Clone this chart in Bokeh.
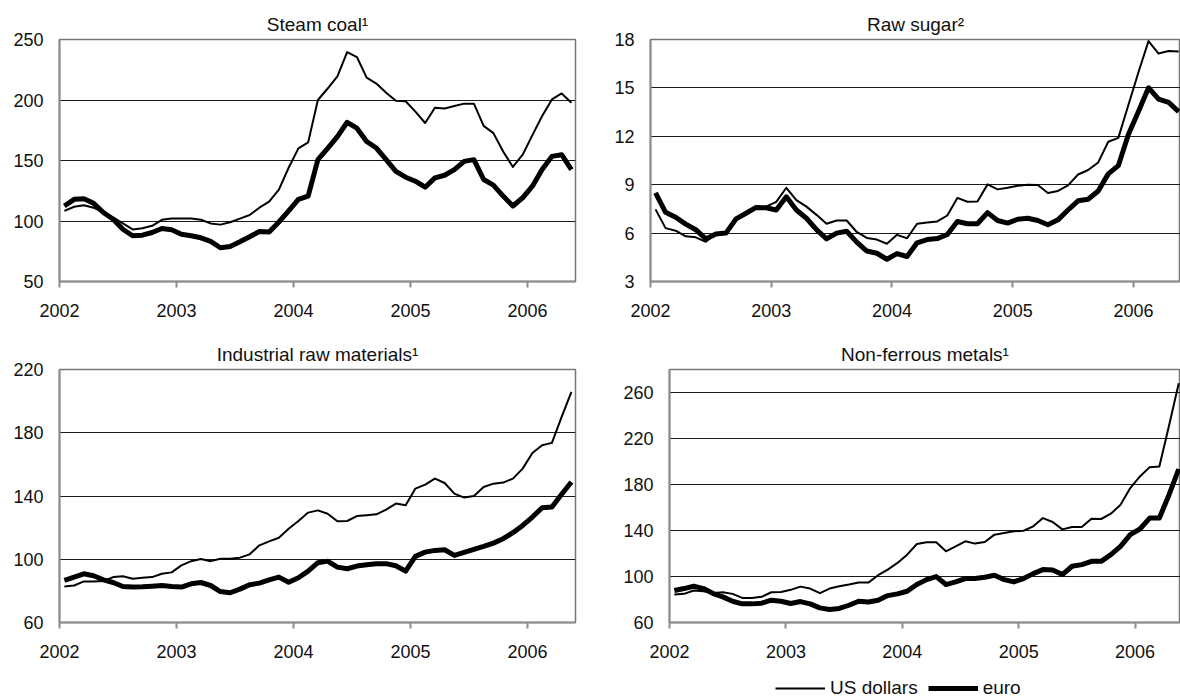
import pandas as pd
from bokeh.plotting import figure
from bokeh.layouts import column, row
from bokeh.models import FixedTicker, Legend, LegendItem, Range1d
from bokeh.embed import file_html
from bokeh.resources import INLINE

# ---------------- data (monthly, Jan 2002 - May 2006) ----------------
months = pd.date_range("2002-01-01", periods=53, freq="MS")
x = list(months.year + (months.month - 0.5) / 12.0)

year_ticks = [2002, 2003, 2004, 2005, 2006]
year_labels = ["2002", "2003", "2004", "2005", "2006"]

coal_usd = [108.3, 111.8, 113, 111, 107, 103, 98, 93, 94, 96, 101, 102, 102, 102, 101, 98, 97, 99,
            102, 105, 111, 116, 126, 144, 160,
            165, 200, 209.5, 219.6, 239.6, 235.5, 218.5, 213.6, 206, 199.4, 199, 190.4, 181, 193.6,
            193, 195, 197, 197, 178.6, 172.6, 157.5, 144.7, 154.8, 171, 186.8, 200.5, 205.4, 197.7]
coal_eur = [112.4, 117.9, 118.4, 114.6, 107, 101.4, 93.2, 87.8, 88.3, 90.5, 93.8, 92.7, 89, 87.8,
            86.1, 83.1, 77.9, 79, 82.8, 87, 91.3, 91, 99.2, 108.3, 117.9,
            120.6, 150.7, 160, 169.8, 181.6, 176.7, 165.7, 160.3, 150.7, 141, 136.2, 132.9, 127.9,
            135.6, 137.8, 142.5, 149.3, 150.7, 134.3, 129.6, 120.6, 112.4, 119.2, 128.8, 142.5,
            153.4, 154.8, 142.5]

sugar_usd = [7.47, 6.31, 6.15, 5.8, 5.74, 5.46, 5.97, 6.0, 6.82, 7.23, 7.59, 7.64, 7.94, 8.81, 8.04,
             7.64, 7.13, 6.58, 6.78, 6.78, 6.07, 5.7,
             5.6, 5.34, 5.89, 5.68, 6.58, 6.66, 6.72, 7.09, 8.18, 7.94, 7.96, 9.02, 8.71, 8.81, 8.94,
             9.0, 8.98, 8.49, 8.61, 8.96, 9.63, 9.91, 10.38, 11.66, 11.9, 13.94, 15.97, 17.9, 17.13,
             17.29, 17.25]
sugar_eur = [8.49, 7.29, 6.98, 6.56, 6.21, 5.64, 5.95, 6.0, 6.88, 7.23, 7.59, 7.57, 7.43, 8.25, 7.43,
             6.92, 6.21, 5.64, 6.0, 6.11, 5.44, 4.89,
             4.75, 4.38, 4.73, 4.55, 5.4, 5.6, 5.66, 5.91, 6.72, 6.58, 6.58, 7.27, 6.78, 6.62, 6.86,
             6.92, 6.78, 6.52, 6.82, 7.43, 8.0, 8.1, 8.61, 9.67, 10.18, 12.11, 13.53, 15.01, 14.3,
             14.1, 13.53]

ind_usd = [82.8, 83.4, 86, 86, 86.2, 88.7, 89.3, 87.7, 88.3, 88.7, 90.8, 91.7, 96.1, 98.8, 100.1,
           98.8, 100.3, 100.3, 101, 103.1, 108.8, 111.3,
           113.6, 119.3, 124.2, 129.5, 130.9, 128.8, 124, 124.2, 127.3, 127.8, 128.4, 131.4, 135.2,
           134.1, 144.7, 147.2, 151, 148.2, 141.5, 139, 140, 145.7, 147.8, 148.5, 151, 157.3, 167.2,
           172.1, 173.6, 190, 205.9]
ind_eur = [86.6, 88.7, 90.8, 89.6, 87, 85.3, 82.8, 82.4, 82.6, 83, 83.4, 82.8, 82.4, 84.5, 85.3,
           83.4, 79.6, 78.8, 81.1, 83.9, 84.9, 87,
           88.7, 85.5, 88.3, 92.5, 97.8, 98.8, 95, 94, 95.7, 96.5, 97.2, 97.2, 95.9, 92.5, 101.8,
           104.5, 105.6, 106, 102.4, 104.3, 106.2, 108.1, 110.2, 113, 116.8, 121.4, 126.7, 132.6,
           133, 141.1, 148.9]

nfm_usd = [84.3, 84.9, 87.8, 87.2, 85.7, 86.3, 84.9, 81.4, 81.4, 82.3, 86.3, 86.6, 88.4, 91.2, 89.5,
           85.5, 89.5, 91.5, 93, 94.7, 94.7,
           101.1, 106, 111.8, 119, 128.3, 129.7, 129.7, 121.9, 126.2, 130.6, 128.6, 130, 136.4,
           137.8, 139.3, 139.8, 143.6, 150.8, 147.4, 141, 143, 143, 150.3, 150, 154.6, 162.4, 176.9,
           187, 195.1, 195.7, 231.3, 268]
nfm_eur = [87.8, 89.5, 91.5, 89.5, 85.2, 82.3, 78.5, 76.2, 76.2, 76.8, 79.4, 78.5, 76.5, 78.2, 76.2,
           72.7, 71.3, 72.2, 75, 78.5, 77.9,
           79.4, 83.4, 84.9, 87.2, 93, 97.3, 99.9, 93, 95.3, 98.2, 98.2, 99.3, 101.1, 97.3, 95.3,
           98.2, 102.5, 106, 105.7, 101.7, 108.9, 110.3, 113.2, 113.2, 119, 126.2, 136.4, 141.3,
           150.8, 150.8, 171.1, 193.4]

titles = ["Steam coal\u00b9", "Raw sugar\u00b2", "Industrial raw materials\u00b9", "Non-ferrous metals\u00b9"]
coal_ticks = [50, 100, 150, 200, 250]
sugar_ticks = [3, 6, 9, 12, 15, 18]
ind_ticks = [60, 100, 140, 180, 220]
nfm_ticks = [60, 100, 140, 180, 220, 260]
legend_labels = ["US dollars", "euro"]

FONT = "Liberation Sans"
FS = "18px"
FS_TITLE = "19px"
AXIS_GRAY = "#8c8c8c"


def make_panel(title, usd, eur, y_ticks, y_end, x_end, width, height, mbl, mbr, mbt, mbb):
    p = figure(width=width, height=height, output_backend="svg", toolbar_location=None,
               x_range=Range1d(2002, x_end), y_range=Range1d(y_ticks[0], y_end),
               min_border_left=mbl, min_border_right=mbr, min_border_top=mbt,
               min_border_bottom=mbb)
    p.title.text = title
    p.title.align = "center"
    p.title.text_font = FONT
    p.title.text_font_size = FS_TITLE
    p.title.text_font_style = "normal"
    p.title.text_color = "#111111"
    p.title.standoff = 9

    p.outline_line_color = "#777777"
    p.outline_line_width = 1.5
    p.background_fill_color = "white"
    p.border_fill_color = "white"

    p.xgrid.visible = False
    p.ygrid.ticker = FixedTicker(ticks=y_ticks)
    p.ygrid.grid_line_color = "#1a1a1a"
    p.ygrid.grid_line_width = 1

    p.xaxis.ticker = FixedTicker(ticks=year_ticks, minor_ticks=[])
    p.xaxis.major_label_overrides = {t: l for t, l in zip(year_ticks, year_labels)}
    p.xaxis.axis_line_color = AXIS_GRAY
    p.xaxis.axis_line_width = 2
    p.xaxis.major_tick_line_color = AXIS_GRAY
    p.xaxis.major_tick_line_width = 2
    p.xaxis.major_tick_out = 6
    p.xaxis.major_tick_in = 0
    p.xaxis.minor_tick_line_color = None
    p.xaxis.major_label_standoff = 16

    p.yaxis.ticker = FixedTicker(ticks=y_ticks, minor_ticks=[])
    p.yaxis.axis_line_color = AXIS_GRAY
    p.yaxis.axis_line_width = 2
    p.yaxis.major_tick_line_color = None
    p.yaxis.minor_tick_line_color = None
    p.yaxis.major_tick_out = 0
    p.yaxis.major_tick_in = 0
    p.yaxis.major_label_standoff = 16

    for ax in (p.xaxis[0], p.yaxis[0]):
        ax.major_label_text_font = FONT
        ax.major_label_text_font_size = FS
        ax.major_label_text_color = "#111111"

    r_usd = p.line(x, usd, line_width=2, line_color="black", line_join="round")
    r_eur = p.line(x, eur, line_width=5, line_color="black", line_join="round")
    return p, r_usd, r_eur


p1, _, _ = make_panel(titles[0], coal_usd, coal_eur, coal_ticks, 250, 2006.41,
                      600, 329, 59, 25, 39, 46)
p2, _, _ = make_panel(titles[1], sugar_usd, sugar_eur, sugar_ticks, 18, 2006.39,
                      580, 329, 50, 0, 37, 48)
p3, _, _ = make_panel(titles[2], ind_usd, ind_eur, ind_ticks, 220, 2006.41,
                      600, 333, 59, 25, 40, 40)
p4, _, _ = make_panel(titles[3], nfm_usd, nfm_eur, nfm_ticks, 280, 2006.39,
                      580, 333, 69, 0, 40, 40)

# legend strip (its own small canvas below the lower row); its key lines lie
# outside the strip's visible range, so only the legend keys are drawn
pl = figure(width=1180, height=38, output_backend="svg", toolbar_location=None,
            x_range=Range1d(0, 1), y_range=Range1d(0, 1),
            min_border_left=0, min_border_right=0, min_border_top=0, min_border_bottom=0)
pl.axis.visible = False
pl.grid.visible = False
pl.outline_line_color = None
pl.background_fill_color = "white"
pl.border_fill_color = "white"
lr_u = pl.line([5, 6], [5, 6], line_width=2, line_color="black")
lr_e = pl.line([5, 6], [5, 6], line_width=5, line_color="black")
legend = Legend(items=[LegendItem(label=legend_labels[0], renderers=[lr_u]),
                       LegendItem(label=legend_labels[1], renderers=[lr_e])],
                location=(775, 1), orientation="horizontal",
                border_line_color=None, background_fill_alpha=0,
                padding=0, margin=0, glyph_width=50, glyph_height=18, label_height=18,
                label_standoff=5, spacing=10,
                label_text_font=FONT, label_text_font_size=FS_TITLE, label_text_color="#111111")
pl.add_layout(legend)

layout = column(row(p1, p2), row(p3, p4), pl)

with open("out.html", "w") as f:
    f.write(file_html(layout, INLINE))
